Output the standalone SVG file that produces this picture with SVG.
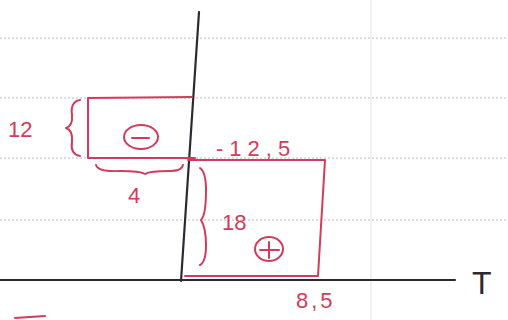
<svg xmlns="http://www.w3.org/2000/svg" width="508" height="320" viewBox="0 0 508 320">
<style>
.rule{stroke:#b8bcc8;stroke-width:1;stroke-dasharray:2 2;fill:none}
.red{stroke:#d23c5a;stroke-width:2;fill:none;stroke-linecap:round;stroke-linejoin:round}
.ink{stroke:#2a2a30;stroke-width:2.2;fill:none;stroke-linecap:round}
.lbl{font-family:"Liberation Sans",Arial,sans-serif;fill:#d23c5a;font-size:22px}
</style>
<rect width="508" height="320" fill="#ffffff"/>
<g id="paper">
<line class="rule" x1="0" y1="38" x2="508" y2="38"/>
<line class="rule" x1="0" y1="98" x2="508" y2="98"/>
<line class="rule" x1="0" y1="158" x2="508" y2="158"/>
<line class="rule" x1="0" y1="220" x2="508" y2="220"/>
<line x1="371" y1="0" x2="371" y2="320" stroke="#e4e6ee" stroke-width="1"/>
</g>
<g id="axes">
<line class="ink" x1="199" y1="12" x2="181" y2="281"/>
<line class="ink" x1="0" y1="280" x2="455" y2="280" stroke-width="1.6" stroke="#2a3050"/>
<text x="472" y="294" font-family="Liberation Sans,Arial,sans-serif" font-size="32" fill="#2a2a30">T</text>
</g>
<g id="neg-block">
<path class="red" d="M88,98 L192,97 M88,98 L88,158 M88,158 L195,158"/>
<ellipse class="red" cx="141" cy="137" rx="17" ry="12"/>
<line class="red" x1="132" y1="138" x2="149" y2="138"/>
<path class="red" d="M80,100 Q70,102 72,115 Q73,126 66,128 Q73,130 72,142 Q70,154 80,156"/>
<text class="lbl" x="8" y="137" font-size="24">12</text>
<path class="red" d="M96,165 Q98,172 120,171 Q140,171 145,174 Q150,171 170,171 Q182,171 183,165"/>
<text class="lbl" x="128" y="203">4</text>
<text class="lbl" x="216" y="156" font-size="23" letter-spacing="6">-12,5</text>
</g>
<g id="pos-block">
<path class="red" d="M188,160 L325,160 L318,276 L185,276"/>
<ellipse class="red" cx="269" cy="249" rx="14" ry="12"/>
<line class="red" x1="260" y1="250" x2="279" y2="250"/>
<line class="red" x1="269" y1="242" x2="269" y2="258"/>
<path class="red" d="M200,168 Q206,172 206,190 Q206,215 201,220 Q206,228 206,245 Q206,262 200,265"/>
<text class="lbl" x="222" y="230" font-size="24">18</text>
<text class="lbl" x="296" y="308" letter-spacing="3">8,5</text>
</g>
<path class="red" d="M15,318 L45,316"/>
</svg>
